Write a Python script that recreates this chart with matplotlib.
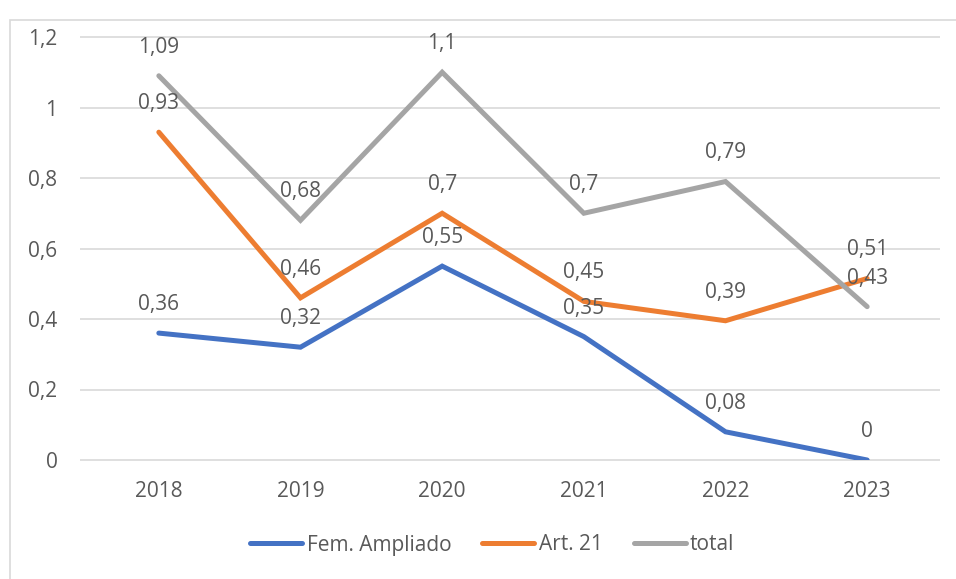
import matplotlib
matplotlib.use("Agg")
import matplotlib.pyplot as plt
from matplotlib.patches import Rectangle

years = ["2018", "2019", "2020", "2021", "2022", "2023"]
fem_ampliado = [0.36, 0.32, 0.55, 0.35, 0.08, 0.0]
art21 = [0.93, 0.46, 0.70, 0.45, 0.395, 0.515]
total = [1.09, 0.68, 1.10, 0.70, 0.79, 0.435]
labels_fem = ["0,36", "0,32", "0,55", "0,35", "0,08", "0"]
labels_art = ["0,93", "0,46", "0,7", "0,45", "0,39", "0,51"]
labels_tot = ["1,09", "0,68", "1,1", "0,7", "0,79", "0,43"]
yticks = [0, 0.2, 0.4, 0.6, 0.8, 1.0, 1.2]
ytick_labels = ["0", "0,2", "0,4", "0,6", "0,8", "1", "1,2"]

plt.rcParams['font.family'] = ['Open Sans', 'DejaVu Sans']
txt = "#595959"
fs = 15

W, H = 956, 579
fig = plt.figure(figsize=(W / 100, H / 100), dpi=100)
ax = fig.add_axes([88 / W, 1 - 460 / H, (938 - 88) / W, (460 - 37) / H])

fig.patches.append(Rectangle((10 / W, -0.1), 1.2, 1 - 20 / H + 0.1,
                             transform=fig.transFigure, fill=False,
                             edgecolor="#d9d9d9", linewidth=1.2))

x = list(range(len(years)))
ax.hlines(yticks, -0.556, 5.514, colors="#d9d9d9", linewidth=1.2,
          clip_on=False, zorder=0)

series = [
    (fem_ampliado, labels_fem, "#4472C4", "Fem. Ampliado"),
    (art21, labels_art, "#ED7D31", "Art. 21"),
    (total, labels_tot, "#A5A5A5", "total"),
]
for vals, labs, col, name in series:
    ax.plot(x, vals, color=col, linewidth=3.6, solid_capstyle="round",
            solid_joinstyle="miter", label=name, zorder=2)
    for xi, v, lab in zip(x, vals, labs):
        ax.annotate(lab, (xi, v), xytext=(0, 13), textcoords="offset points",
                    ha="center", va="bottom", fontsize=fs, color=txt, zorder=3)

ax.set_xlim(-0.5, len(years) - 0.5)
ax.set_ylim(0, 1.2)
ax.set_yticks(yticks)
ax.set_yticklabels(ytick_labels)
ax.set_xticks(x)
ax.set_xticklabels(years)
ax.tick_params(axis="both", length=0, labelsize=fs, colors=txt)
ax.tick_params(axis="y", pad=22)
ax.tick_params(axis="x", pad=15)
for s in ax.spines.values():
    s.set_visible(False)

leg = fig.legend(loc="center", bbox_to_anchor=(0.515, 1 - 545 / H), ncol=3,
                 frameon=False, fontsize=fs, handlelength=2.5,
                 handletextpad=0.2, columnspacing=1.5)
for t in leg.get_texts():
    t.set_color(txt)

fig.savefig("out.png", dpi=100)
